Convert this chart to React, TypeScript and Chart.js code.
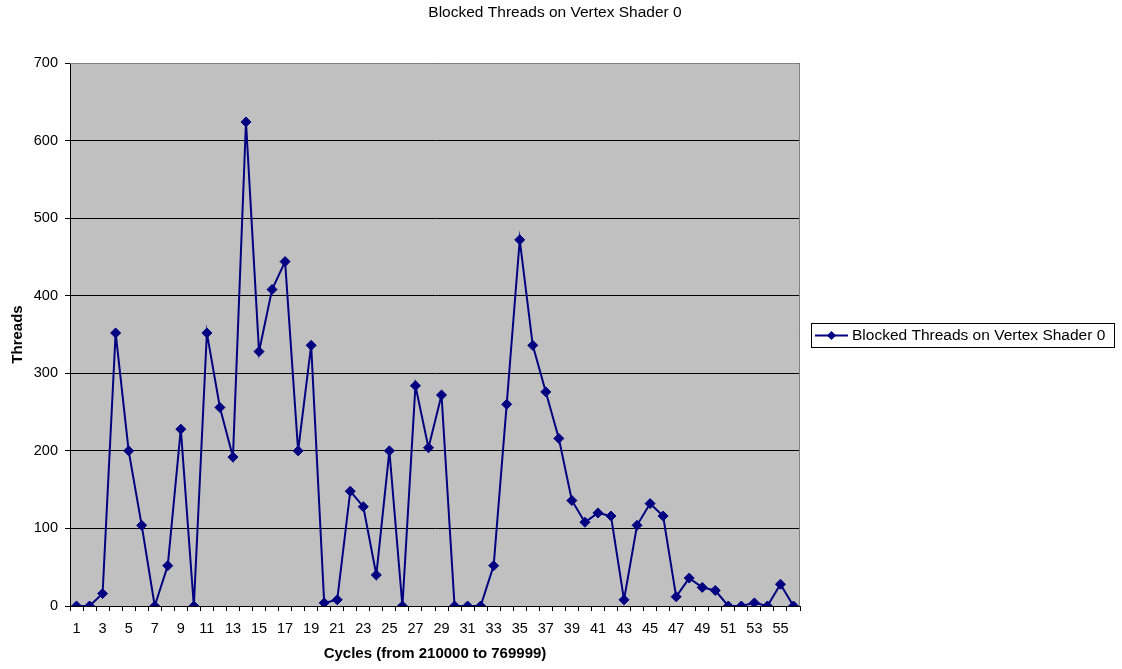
import React, { useEffect, useRef } from "react";
import { Chart, registerables } from "chart.js";

Chart.register(...registerables);

const chartTitle = "Blocked Threads on Vertex Shader 0";
const seriesLabel = "Blocked Threads on Vertex Shader 0";
const xAxisTitle = "Cycles (from 210000 to 769999)";
const yAxisTitle = "Threads";

const categories: string[] = Array.from({ length: 56 }, (_, i) => String(i + 1));

const blockedThreads: number[] = [
  0, 0, 16, 352, 200, 104, 0, 52, 228, 0,
  352, 256, 192, 624, 328, 408, 444, 200, 336, 4,
  8, 148, 128, 40, 200, 0, 284, 204, 272, 0,
  0, 0, 52, 260, 472, 336, 276, 216, 136, 108,
  120, 116, 8, 104, 132, 116, 12, 36, 24, 20,
  0, 0, 4, 0, 28, 0,
];

const yMin = 0;
const yMax = 700;
const yStep = 100;

const FONT = "'Liberation Sans', Arial, sans-serif";
const NAVY = "#000080";

const decorPlugin = {
  id: "decor",
  beforeDraw(chart: any) {
    const { ctx, chartArea } = chart;
    ctx.save();
    ctx.fillStyle = "#C0C0C0";
    ctx.fillRect(chartArea.left, chartArea.top, chartArea.right - chartArea.left, chartArea.bottom - chartArea.top);
    ctx.restore();
  },
  beforeDatasetsDraw(chart: any) {
    const { ctx, chartArea } = chart;
    ctx.save();
    ctx.strokeStyle = "#808080";
    ctx.lineWidth = 1;
    ctx.beginPath();
    ctx.moveTo(chartArea.left, chartArea.top + 0.5);
    ctx.lineTo(chartArea.right - 0.5, chartArea.top + 0.5);
    ctx.lineTo(chartArea.right - 0.5, chartArea.bottom);
    ctx.stroke();
    ctx.restore();
  },
  afterDraw(chart: any) {
    const { ctx } = chart;
    ctx.save();
    // title
    ctx.fillStyle = "#000";
    ctx.font = `15.5px ${FONT}`;
    ctx.textAlign = "center";
    ctx.textBaseline = "middle";
    ctx.fillText(chartTitle, 555, 12.5);

    // legend
    const bx = 811, by = 323, bw = 303, bh = 24;
    ctx.strokeStyle = "#000";
    ctx.lineWidth = 1;
    ctx.strokeRect(bx + 0.5, by + 0.5, bw, bh);
    const cy = by + bh / 2 + 0.5;
    ctx.strokeStyle = NAVY;
    ctx.lineWidth = 2;
    ctx.beginPath();
    ctx.moveTo(815, cy);
    ctx.lineTo(848, cy);
    ctx.stroke();
    ctx.fillStyle = NAVY;
    ctx.beginPath();
    const r = 4.5, px = 831.5;
    ctx.moveTo(px - r, cy);
    ctx.lineTo(px, cy - r);
    ctx.lineTo(px + r, cy);
    ctx.lineTo(px, cy + r);
    ctx.closePath();
    ctx.fill();
    ctx.fillStyle = "#000";
    ctx.textAlign = "left";
    ctx.font = `15.5px ${FONT}`;
    ctx.fillText(seriesLabel, 852, cy);
    ctx.restore();
  },
};

export default function App() {
  const canvasRef = useRef<HTMLCanvasElement | null>(null);

  useEffect(() => {
    document.body.style.margin = "0";
    const canvas = canvasRef.current;
    if (!canvas) return;
    const chart = new Chart(canvas, {
      type: "line",
      data: {
        labels: categories,
        datasets: [
          {
            label: seriesLabel,
            data: blockedThreads,
            borderColor: NAVY,
            backgroundColor: NAVY,
            borderWidth: 2,
            pointStyle: "rectRot",
            pointRadius: 5,
            pointBackgroundColor: NAVY,
            pointBorderColor: NAVY,
            pointBorderWidth: 1,
            tension: 0,
            fill: false,
          },
        ],
      },
      options: {
        responsive: false,
        animation: false,
        devicePixelRatio: 1,
        layout: { padding: { top: 63, right: 322, left: 0, bottom: 0 } },
        plugins: {
          legend: { display: false },
          title: { display: false },
          tooltip: { enabled: false },
        },
        scales: {
          x: {
            type: "category",
            offset: true,
            afterFit: (scale: any) => {
              scale.height = 63;
            },
            grid: {
              offset: true,
              drawOnChartArea: false,
              drawTicks: true,
              tickLength: 5,
              color: "#000",
            },
            border: { display: true, color: "#000", width: 1 },
            ticks: {
              autoSkip: false,
              maxRotation: 0,
              minRotation: 0,
              padding: 9,
              color: "#000",
              font: { family: FONT, size: 14.5 },
              callback: (_v: any, i: number) => (i % 2 === 0 ? categories[i] : ""),
            },
            title: {
              display: true,
              text: xAxisTitle,
              color: "#000",
              font: { family: FONT, size: 15, weight: "bold" },
              padding: { top: 0, bottom: 6 },
            },
          },
          y: {
            min: yMin,
            max: yMax,
            afterFit: (scale: any) => {
              scale.width = 70;
            },
            grid: {
              color: "#000",
              lineWidth: 1,
              drawTicks: true,
              tickLength: 5,
            },
            border: { display: true, color: "#000", width: 1 },
            ticks: {
              stepSize: yStep,
              padding: 7,
              color: "#000",
              font: { family: FONT, size: 14.5 },
            },
            title: {
              display: true,
              text: yAxisTitle,
              color: "#000",
              font: { family: FONT, size: 15, weight: "bold" },
              padding: { top: 9, bottom: 0 },
            },
          },
        },
      },
      plugins: [decorPlugin],
    });
    return () => chart.destroy();
  }, []);

  return (
    <div style={{ width: 1122, height: 669, background: "#fff" }}>
      <canvas ref={canvasRef} width={1122} height={669} style={{ display: "block", width: 1122, height: 669 }} />
    </div>
  );
}
